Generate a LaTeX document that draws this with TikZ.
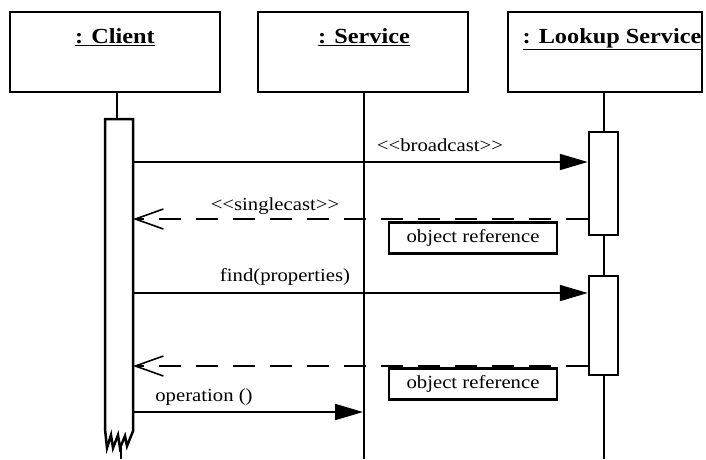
\documentclass[tikz,border=0pt]{standalone}
\usepackage{fontspec}
\setmainfont{Liberation Serif}
\newfontfamily\headfont{Liberation Serif}[FakeStretch=1.13]
\newfontfamily\lblfont{Liberation Serif}[FakeStretch=1.12]
\usetikzlibrary{arrows.meta}
\newcommand{\ltlt}{\textless\kern0pt\textless}
\newcommand{\gtgt}{\textgreater\kern0pt\textgreater}
\begin{document}
\begin{tikzpicture}[x=1pt,y=-1pt,
  headbox/.style={draw,line width=2.5pt,minimum width=#1,minimum height=80pt,inner sep=0pt},
  headtext/.style={font=\headfont\fontsize{21.5}{24}\selectfont\bfseries,inner sep=0pt,anchor=base},
  actbox/.style={draw,line width=2.5pt,fill=white,minimum width=29pt,inner sep=0pt},
  life/.style={line width=2pt},
  msg/.style={line width=2pt,-{Triangle[length=28pt,width=16pt]}},
  ret/.style={line width=2pt,dash pattern=on 22pt off 15pt,-{Straight Barb[length=28pt,width=20pt,line width=1.6pt]}},
  lbl/.style={font=\lblfont\fontsize{18.5}{21}\selectfont,inner sep=0pt,anchor=base},
  refbox/.style={draw,line width=2.5pt,fill=white,font=\lblfont\fontsize{18.5}{21}\selectfont,minimum width=168pt,minimum height=31pt,inner sep=0pt}]
\useasboundingbox (0,0) rectangle (706,459);
% heads
\node[headbox=210pt] (client) at (115,52) {};
\node[headbox=210pt] (service) at (363,52) {};
\node[headbox=194pt] (lookup) at (605,52) {};
\node[headtext] (tclient) at (115,43) {\underline{: Client}};
\node[headtext] (tservice) at (364,43) {\underline{: Service}};
\node[headtext] (tlookup) at (612,43) {\underline{: Lookup Service}};
% lifelines
\coordinate (sbot) at (364,459);
\coordinate (lbot) at (604,459);
\coordinate (cbot) at (121,459);
\coordinate (ctop) at (117,119);
\draw[life] (service.south -| sbot) -- (sbot);
\draw[life] (lookup.south -| lbot) -- (lbot);
\draw[life] (client.south -| ctop) -- (ctop);
% client activation with torn end
\coordinate (cb) at (133,119);
\draw[line width=2.5pt,fill=white,line join=miter] (cb) -- (105,119) -- (105,429)
  -- (107,448) -- (111,435) -- (113,448) -- (118,435) -- (120,448) -- (125,436) -- (127,446) -- (133,431) -- cycle;
\draw[life] (121,446) -- (cbot);
% lookup activations
\node[actbox,minimum height=103pt] (la1) at (603.5,183.5) {};
\node[actbox,minimum height=99pt] (la2) at (603.5,325.5) {};
% messages
\coordinate (m1) at (133,162);
\draw[msg] (m1) -- (la1.west |- m1);
\node[lbl] (l1) at (440,151) {\ltlt broadcast\gtgt};
\coordinate (m2) at (133,219);
\draw[ret] (la1.west |- m2) -- (m2);
\node[lbl] (l2) at (275,210) {\ltlt singlecast\gtgt};
\node[refbox] (r1) at (473,237.8) {object reference};
\coordinate (m3) at (133,293);
\draw[msg] (m3) -- (la2.west |- m3);
\node[lbl] (l3) at (285,281) {find(properties)};
\coordinate (m4) at (133,366);
\draw[ret] (la2.west |- m4) -- (m4);
\node[refbox] (r2) at (473,384) {object reference};
\coordinate (m5) at (133,412);
\coordinate (m5e) at (363,412);
\draw[msg] (m5) -- (m5e);
\node[lbl] (l5) at (204,401) {operation ()};
\end{tikzpicture}
\end{document}
